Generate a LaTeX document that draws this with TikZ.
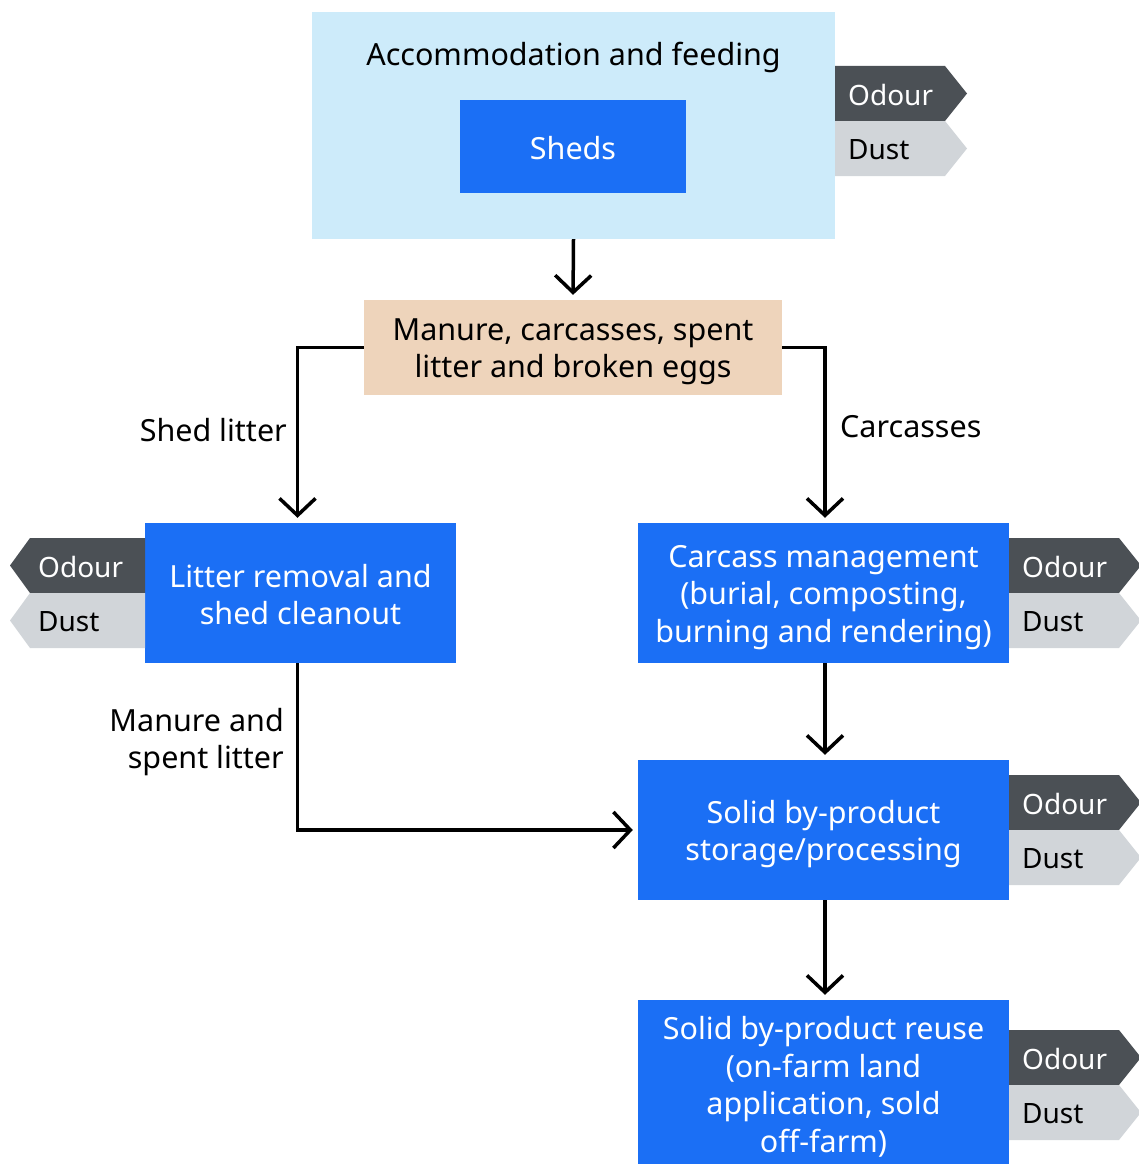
\documentclass[tikz,border=0pt]{standalone}
\usepackage{fontspec}
\setmainfont{Noto Sans}
\usetikzlibrary{arrows.meta,positioning}

\definecolor{procblue}{RGB}{27,111,245}
\definecolor{shedarea}{RGB}{205,235,250}
\definecolor{wastetan}{RGB}{238,212,187}
\definecolor{odourgrey}{RGB}{75,80,85}
\definecolor{dustgrey}{RGB}{209,213,217}

\tikzset{
  txt/.style={font=\fontsize{30.5}{37.5}\selectfont, inner sep=0pt, align=center},
  procbox/.style={fill=procblue, inner sep=0pt, minimum width=371pt, minimum height=140pt},
  proctxt/.style={txt, text=white},
  flow/.style={line width=3.5pt, -{Straight Barb[length=17pt,width=36pt]}, shorten >=5pt},
  flowlabel/.style={txt},
  tagtext/.style={font=\fontsize{28}{34}\selectfont, inner sep=0pt, anchor=west}
}

\begin{document}
\begin{tikzpicture}[x=1pt,y=-1pt]
        \useasboundingbox (0,0) rectangle (1139,1164);

        % accommodation
        \node (house) [fill=shedarea, minimum width=523pt, minimum height=227pt, inner sep=0pt] at (573.5,125.5) {};
        \node (housetitle) [txt] at (573.5,57) {Accommodation and feeding};
        \node (sheds) [procbox, minimum width=226pt, minimum height=93pt] at (573,146.5) {};
        \node (shedstxt) [proctxt] at ([yshift=-2pt]sheds) {Sheds};

        % by-products
        \node (waste) [procbox, fill=wastetan, minimum width=418pt, minimum height=95pt] at (573,347.5) {};
        \node (wastetxt) [txt] at ([yshift=-4.5pt]waste) {Manure, carcasses, spent\\litter and broken eggs};

        \node (litter) [procbox, minimum width=311pt] at (300.5,593) {};
        \node (littertxt) [proctxt] at ([yshift=-1.5pt]litter) {Litter removal and\\shed cleanout};
        \node (carcass) [procbox] at (823.5,593) {};
        \node (carcasstxt) [proctxt] at ([yshift=-4.5pt]carcass) {Carcass management\\(burial, composting,\\burning and rendering)};
        \node (storage) [procbox] at (823.5,830) {};
        \node (storagetxt) [proctxt] at ([yshift=-4pt]storage) {Solid by-product\\storage/processing};
        \node (reuse) [procbox, minimum height=168pt] at (823.5,1084) {};
        \node (reusetxt) [proctxt] at ([yshift=-3pt]reuse) {Solid by-product reuse\\(on-farm land\\application, sold\\off-farm)};

        % connectors
        \draw[flow] (house.south) -- (waste.north);
        \draw[flow] (waste.west) -| ([xshift=-3pt]litter.north);
        \draw[flow] (waste.east) -| ([xshift=1.5pt]carcass.north);
        \draw[flow] ([xshift=1.5pt]carcass.south) -- ([xshift=1.5pt]storage.north);
        \draw[flow] ([xshift=1.5pt]storage.south) -- ([xshift=1.5pt]reuse.north);
        \draw[flow] ([xshift=-3pt]litter.south) |- (storage.west);

        \node (shedlbl) [flowlabel, anchor=east] at (287,430) {Shed litter};
        \node (carclbl) [flowlabel, anchor=west] at (840,427) {Carcasses};
        \node (manurelbl) [flowlabel, anchor=east, align=right] at (284,742) {Manure and\\spent litter};

        % emission tags, right side
        \foreach \bx/\ty in {835/66,1009/538,1009/775,1009/1030}{
            \fill[odourgrey] (\bx,\ty) -- ++(110,0) -- ++(22,27.5) -- ++(-22,27.5) -- ++(-110,0) -- cycle;
            \fill[dustgrey] (\bx,\ty+55) -- ++(110,0) -- ++(22,27.5) -- ++(-22,27.5) -- ++(-110,0) -- cycle;
            \node (odour\ty) [tagtext, text=white] at (\bx+13,\ty+28.5) {Odour};
            \node (dust\ty) [tagtext] at (\bx+13,\ty+83.5) {Dust};
        }

        % emission tags, left side
        \fill[odourgrey] (145,538) -- ++(-115,0) -- ++(-20,27.5) -- ++(20,27.5) -- ++(115,0) -- cycle;
        \fill[dustgrey] (145,593) -- ++(-115,0) -- ++(-20,27.5) -- ++(20,27.5) -- ++(115,0) -- cycle;
        \node (odourleft) [tagtext, text=white] at (38,566.5) {Odour};
        \node (dustleft) [tagtext] at (38,621.5) {Dust};
\end{tikzpicture}
\end{document}
